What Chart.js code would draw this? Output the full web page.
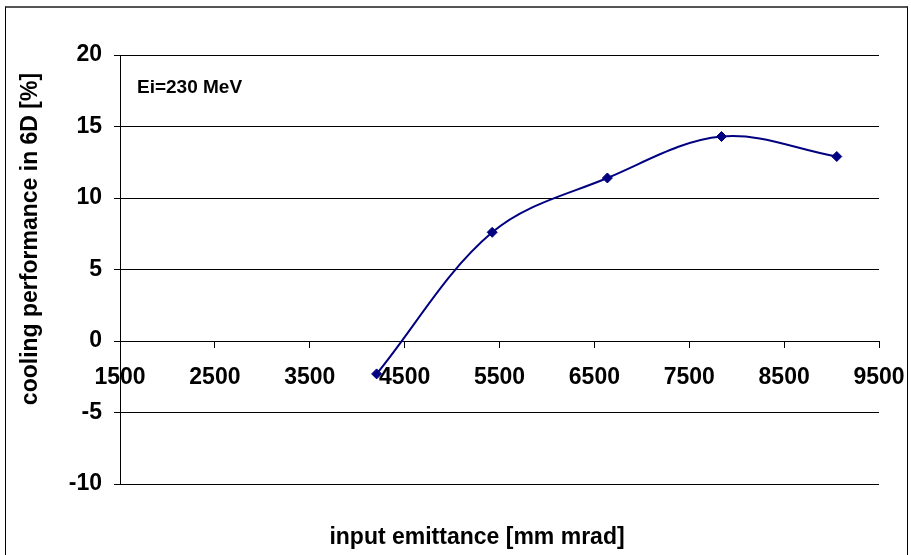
<!DOCTYPE html>
<html>
<head>
<meta charset="utf-8">
<script src="https://cdn.jsdelivr.net/npm/chart.js@4.4.0/dist/chart.umd.min.js"></script>
<style>
    html, body { margin: 0; padding: 0; background: #fff; overflow: hidden; }
    #wrap { position: relative; width: 911px; height: 555px; }
    #frame { position: absolute; left: 5px; top: 6px; width: 903px; height: 570px; border: 1px solid #000; border-top: 2px solid #555; box-sizing: border-box; }
    #grafico { position: absolute; left: 0; top: 0; }
</style>
</head>
<body>
<div id="wrap">
    <div id="frame"></div>
    <canvas id="grafico" width="911" height="555"></canvas>
</div>
<script>
    //Dati
    const emittanza = [4205, 5423, 6637, 7840, 9055];
    const prestazione = [-2.3, 7.6, 11.4, 14.3, 12.9];

    //Etichette degli assi
    const etichetteX = [1500, 2500, 3500, 4500, 5500, 6500, 7500, 8500, 9500];
    const etichetteY = [-10, -5, 0, 5, 10, 15, 20];

    //Testi
    const titoloX = "input emittance [mm mrad]";
    const titoloY = "cooling performance in 6D [%]";
    const annotazione = "Ei=230 MeV";

    const font = '"Liberation Sans", Arial, sans-serif';
    const blu = "#000080";

    //Plugin per scrivere i titoli degli assi e la nota
    const testi = {
        id: 'testi',
        afterDraw(chart) {
            let ctx = chart.ctx;
            ctx.save();
            ctx.fillStyle = "#000";
            ctx.textBaseline = "middle";
            ctx.font = "bold 19px " + font;
            ctx.textAlign = "left";
            ctx.fillText(annotazione, 137, 88);
            ctx.font = "bold 23px " + font;
            ctx.textAlign = "center";
            ctx.fillText(titoloX, 477, 538);
            ctx.translate(31, 239);
            ctx.rotate(-Math.PI / 2);
            ctx.fillText(titoloY, 0, 0);
            ctx.restore();
        }
    };

    new Chart(document.getElementById("grafico").getContext('2d'), {
        type: 'line',
        data: {
            datasets: [{
                data: emittanza.map((x, i) => ({ x: x, y: prestazione[i] })),
                borderColor: blu,
                backgroundColor: blu,
                borderWidth: 2,
                tension: 0.35,
                pointStyle: 'rectRot',
                pointRadius: 5,
                pointBorderWidth: 1
            }]
        },
        options: {
            responsive: false,
            animation: false,
            devicePixelRatio: 1,
            layout: { padding: { left: 0, top: 55, right: 32, bottom: 71 } },
            plugins: { legend: { display: false }, tooltip: { enabled: false } },
            scales: {
                x: {
                    type: 'linear',
                    position: { y: 0 },
                    min: 1500,
                    max: 9500,
                    afterBuildTicks: s => { s.ticks = etichetteX.map(v => ({ value: v })); },
                    //niente spazio extra per le etichette ai bordi
                    afterFit: s => { s.paddingLeft = 0; s.paddingRight = 0; },
                    ticks: { autoSkip: false, maxRotation: 0, color: "#000", padding: 17,
                        callback: v => String(v),
                        font: { family: font, size: 23, weight: 'bold' } },
                    grid: { drawOnChartArea: false, drawTicks: true, tickLength: 6, color: "#000" },
                    border: { display: true, color: "#000", width: 1 }
                },
                y: {
                    type: 'linear',
                    min: -10,
                    max: 20,
                    afterBuildTicks: s => { s.ticks = etichetteY.map(v => ({ value: v })); },
                    afterFit: s => { s.width = 120; },
                    ticks: { color: "#000", padding: 12, font: { family: font, size: 23, weight: 'bold' } },
                    grid: { color: "#000", lineWidth: 1, tickLength: 6 },
                    border: { display: true, color: "#000", width: 1 }
                }
            }
        },
        plugins: [testi]
    });
</script>
</body>
</html>
